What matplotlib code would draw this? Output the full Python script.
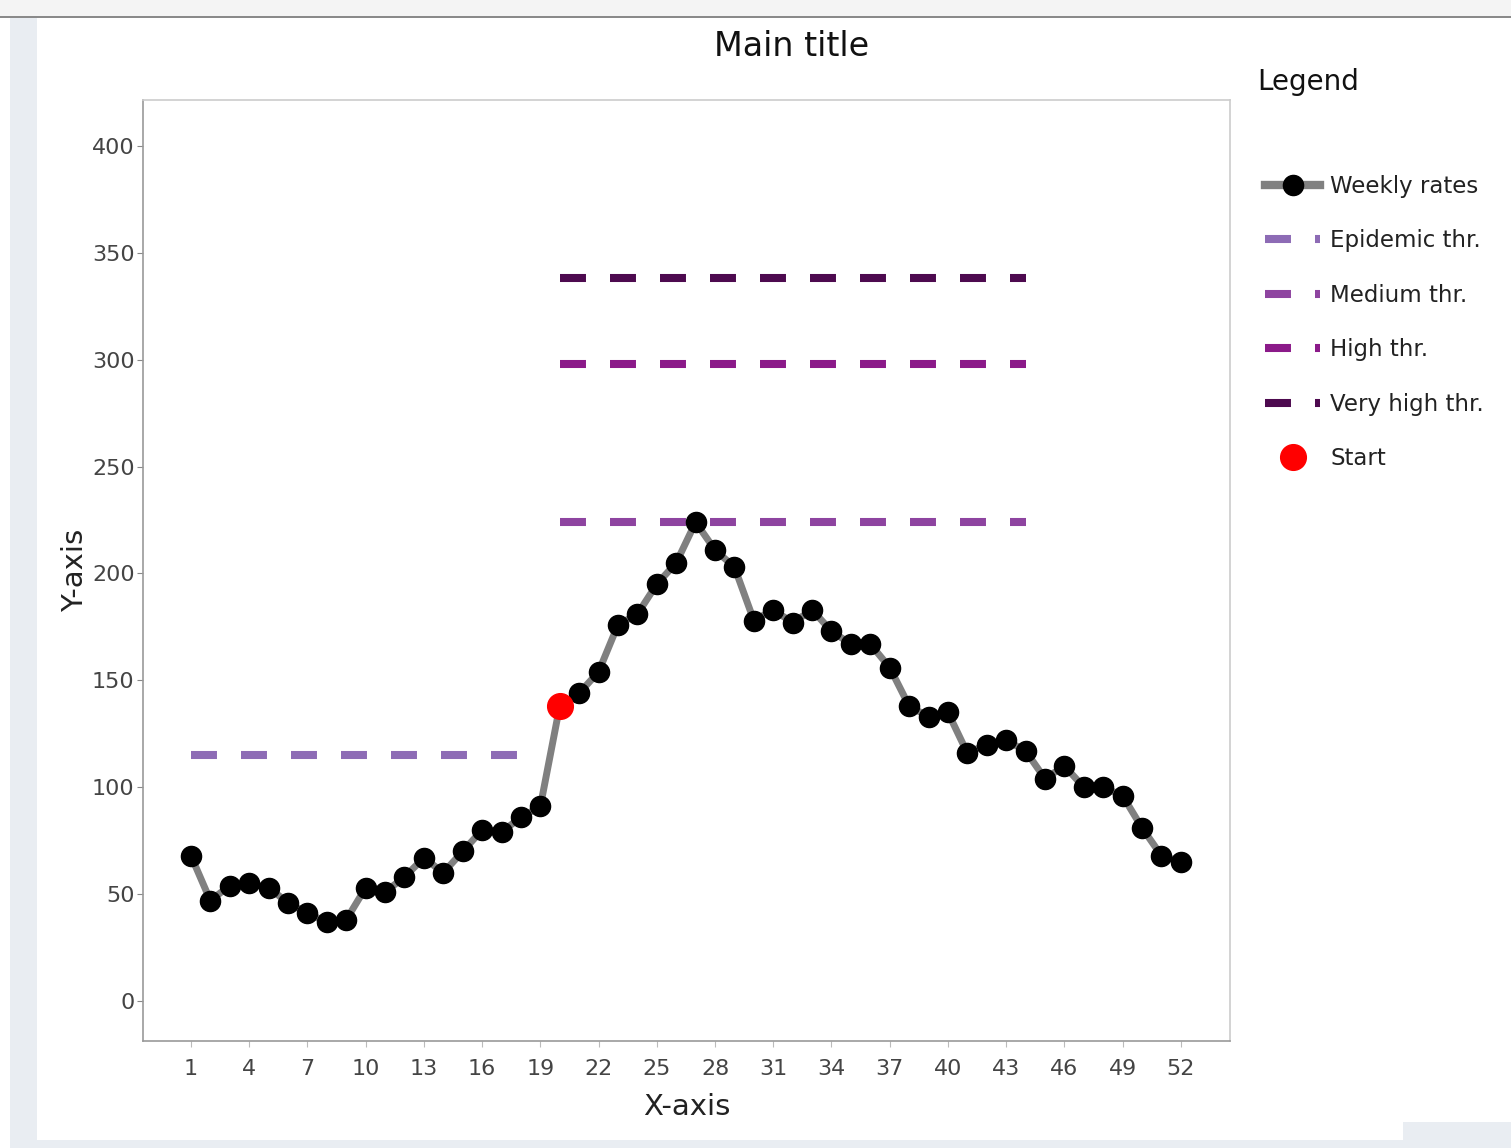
import matplotlib
matplotlib.use("Agg")
import matplotlib.pyplot as plt
from matplotlib.patches import Rectangle
from matplotlib.lines import Line2D

plt.rcParams["font.family"] = ["DejaVu Sans"]
plt.rcParams["lines.scale_dashes"] = False

# weekly data
weeks = list(range(1, 53))
rates = [68, 47, 54, 55, 53, 46, 41, 37, 38, 53,
         51, 58, 67, 60, 70, 80, 79, 86, 91, 138,
         144, 154, 176, 181, 195, 205, 224, 211, 203, 178,
         183, 177, 183, 173, 167, 167, 156, 138, 133, 135,
         116, 120, 122, 117, 104, 110, 100, 100, 96, 81,
         68, 65]
start_week = 20
start_rate = 138

# thresholds: (label, value, first week, last week, colour)
thr_labels = ["Epidemic thr.", "Medium thr.", "High thr.", "Very high thr."]
thr_values = [115, 224, 298, 338]
thr_from = [1, 20, 20, 20]
thr_to = [19, 44, 44, 44]
thr_colors = ["#8d6bb5", "#8e44a0", "#8b1a89", "#4d0a4f"]

W, H = 1511, 1148
fig = plt.figure(figsize=(W / 100, H / 100), dpi=100)


def px_rect(x0, y0, x1, y1, color):
    fig.add_artist(Rectangle((x0 / W, 1 - y1 / H), (x1 - x0) / W, (y1 - y0) / H,
                             transform=fig.transFigure, color=color, lw=0, zorder=-10))


# screenshot-like surroundings
px_rect(0, 0, W, 16, "#f4f4f4")
px_rect(0, 16, W, 18, "#8a8a8a")
px_rect(10, 18, 37, H, "#e9edf2")
px_rect(10, 1140, W, H, "#e9edf2")
px_rect(1403, 1122, W, H, "#e9edf2")

ax = fig.add_axes([143 / W, 1 - 1041 / H, (1230 - 143) / W, (1041 - 100) / H])

dash = (18.7, 17.3)
for lab, val, a, b, col in zip(thr_labels, thr_values, thr_from, thr_to, thr_colors):
    ax.plot([a, b], [val, val], color=col, lw=5.8, dashes=dash,
            solid_capstyle="butt", dash_capstyle="butt", zorder=2)

ax.plot(weeks, rates, color="#808080", lw=5, zorder=3)
ax.plot(weeks, rates, "o", color="black", ms=14.5, zorder=4)
ax.plot([start_week], [start_rate], "o", color="#ff0000", ms=18.5, zorder=5)

ax.set_xlim(-1.47, 54.53)
ax.set_ylim(-18.7, 421.5)
ax.set_xticks(weeks[::3])
ax.set_yticks(range(0, 401, 50))
ax.tick_params(length=4, color="#888888", labelcolor="#444444", labelsize=16)
ax.tick_params(axis="x", pad=9, color="#bbbbbb")
ax.tick_params(axis="y", pad=2)
for s in ax.spines.values():
    s.set_color("#cccccc")
    s.set_linewidth(1.2)
for s in ["left", "bottom"]:
    ax.spines[s].set_color("#999999")

ax.set_xlabel("X-axis", fontsize=21, color="#222222", labelpad=10)
ax.set_ylabel("Y-axis", fontsize=21, color="#222222", labelpad=2)
fig.text(792 / W, 1 - 46 / H, "Main title", fontsize=24, ha="center", va="center", color="#111111")
fig.text(1257 / W, 1 - 82 / H, "Legend", fontsize=20, ha="left", va="center", color="#111111")

handles = [Line2D([], [], color="#808080", lw=6, marker="o", mfc="black", mec="black", ms=14.5)]
for col in thr_colors:
    handles.append(Line2D([], [], color=col, lw=5.8, dashes=dash, dash_capstyle="butt"))
handles.append(Line2D([], [], ls="none", marker="o", color="#ff0000", ms=18.5))
labels = ["Weekly rates"] + thr_labels + ["Start"]

fig.legend(handles, labels, loc="upper left", bbox_to_anchor=(1265 / W, 1 - 175 / H),
           frameon=False, fontsize=16.5, handlelength=2.4, handletextpad=0.45,
           labelspacing=1.37, borderpad=0, borderaxespad=0, labelcolor="#222222")

fig.savefig("out.png", dpi=100)
